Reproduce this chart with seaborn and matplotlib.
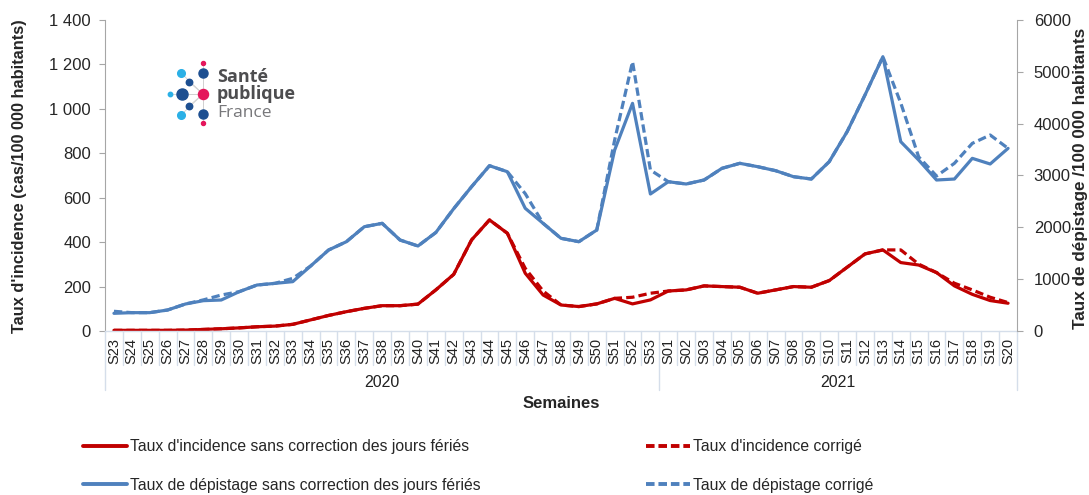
import numpy as np
import pandas as pd
import matplotlib
matplotlib.use("Agg")
import matplotlib.pyplot as plt
import matplotlib.transforms as mtransforms
from matplotlib.lines import Line2D
from matplotlib.ticker import FuncFormatter, MultipleLocator
import seaborn as sns

# semaines (2020 : S23-S53, 2021 : S01-S20)
weeks_2020 = ["S23", "S24", "S25", "S26", "S27", "S28", "S29", "S30", "S31", "S32",
              "S33", "S34", "S35", "S36", "S37", "S38", "S39", "S40", "S41", "S42",
              "S43", "S44", "S45", "S46", "S47", "S48", "S49", "S50", "S51", "S52", "S53"]
weeks_2021 = ["S01", "S02", "S03", "S04", "S05", "S06", "S07", "S08", "S09", "S10",
              "S11", "S12", "S13", "S14", "S15", "S16", "S17", "S18", "S19", "S20"]
years = ["2020", "2021"]

# taux d'incidence (cas/100 000 hab.)
incid_raw = [3, 3, 3, 3, 4, 7, 10, 14, 19, 22,
             30, 50, 70, 87, 102, 114, 114, 121, 185, 255,
             410, 500, 440, 260, 162, 117, 110, 122, 147, 122, 140,
             180, 185, 203, 200, 197, 170, 185, 200, 197, 227,
             287, 347, 365, 308, 297, 263, 203, 165, 137, 125]
incid_corr = [3, 3, 3, 3, 4, 7, 10, 14, 19, 22,
              30, 50, 70, 87, 102, 114, 114, 121, 185, 255,
              410, 500, 440, 282, 180, 117, 110, 122, 147, 152, 170,
              180, 185, 203, 200, 197, 170, 185, 200, 197, 227,
              287, 347, 365, 365, 301, 263, 215, 185, 152, 128]

# taux de dépistage (/100 000 hab.)
depist_raw = [341, 354, 354, 405, 521, 585, 598, 758, 887, 919,
              952, 1254, 1562, 1723, 2012, 2077, 1755, 1640, 1900, 2360,
              2784, 3189, 3073, 2367, 2077, 1788, 1723, 1948, 3491, 4392, 2643,
              2880, 2836, 2913, 3138, 3235, 3170, 3093, 2977, 2932, 3267,
              3845, 4553, 5292, 3652, 3299, 2913, 2932, 3331, 3222, 3524]
depist_corr = [380, 354, 354, 405, 521, 600, 694, 758, 887, 919,
               1016, 1254, 1562, 1723, 2012, 2077, 1755, 1640, 1900, 2360,
               2784, 3189, 3073, 2650, 2077, 1788, 1723, 1948, 3684, 5196, 3106,
               2880, 2836, 2913, 3138, 3235, 3170, 3093, 2977, 2932, 3267,
               3845, 4553, 5292, 4398, 3360, 2990, 3235, 3620, 3781, 3524]

labels = ["Taux d'incidence sans correction des jours fériés",
          "Taux d'incidence corrigé",
          "Taux de dépistage sans correction des jours fériés",
          "Taux de dépistage corrigé"]

weeks = weeks_2020 + weeks_2021
df = pd.DataFrame({"semaine": weeks, "pos": np.arange(len(weeks)),
                   "incid_raw": incid_raw, "incid_corr": incid_corr,
                   "depist_raw": depist_raw, "depist_corr": depist_corr})

RED = "#C00000"
BLUE = "#4F81BD"
GREY = "#A6A6A6"
SEP = "#D5DEEA"
dash = (0, (2.6, 1.3))

sns.set_style("white")
plt.rcParams["font.family"] = ["Liberation Sans", "DejaVu Sans"]

fig = plt.figure(figsize=(10.89, 4.95), dpi=100)
ax = fig.add_axes([105 / 1089, 1 - 331 / 495, 912 / 1089, 311 / 495])
ax2 = ax.twinx()

sns.lineplot(data=df, x="pos", y="incid_corr", ax=ax, color=RED, lw=2.3, linestyle=dash)
sns.lineplot(data=df, x="pos", y="incid_raw", ax=ax, color=RED, lw=2.3)
sns.lineplot(data=df, x="pos", y="depist_corr", ax=ax2, color=BLUE, lw=2.3, linestyle=dash)
sns.lineplot(data=df, x="pos", y="depist_raw", ax=ax2, color=BLUE, lw=2.3)

n = len(weeks)
ax.set_xlim(-0.5, n - 0.5)
ax.set_ylim(0, 1400)
ax2.set_ylim(0, 6000)
ax.yaxis.set_major_locator(MultipleLocator(200))
ax2.yaxis.set_major_locator(MultipleLocator(1000))
ax.yaxis.set_major_formatter(FuncFormatter(lambda v, p: f"{int(v):,}".replace(",", " ")))
ax2.yaxis.set_major_formatter(FuncFormatter(lambda v, p: f"{int(v)}"))

ax.set_xticks(df["pos"])
ax.set_xticklabels(weeks, rotation=90, fontsize=10.5, color="#222222")
ax.tick_params(axis="x", length=0, pad=5)
ax.tick_params(axis="y", length=4, width=0.8, color=GREY, labelsize=12, pad=6, direction="out", left=True)
ax2.tick_params(axis="y", length=4, width=0.8, color=GREY, labelsize=12, pad=8, direction="out", right=True)
ax.set_xlabel("")
ax.set_ylabel("")
ax2.set_ylabel("")

for a in (ax, ax2):
    a.spines["top"].set_visible(False)
    a.spines["left"].set_color(GREY)
    a.spines["right"].set_color(GREY)
    a.spines["bottom"].set_color(SEP)
    a.spines["bottom"].set_linewidth(1.0)
ax2.spines["bottom"].set_visible(False)
ax.spines["right"].set_visible(False)
ax2.spines["left"].set_visible(False)

# séparateurs de l'axe des semaines
trans = mtransforms.blended_transform_factory(ax.transData, ax.transAxes)
n20 = len(weeks_2020)
for b in np.arange(-0.5, n, 1.0):
    low = -0.19 if b in (-0.5, n20 - 0.5, n - 0.5) else -0.11
    ax.plot([b, b], [0, low], transform=trans, color=SEP, lw=1.0, clip_on=False)
ax.text((n20 - 1) / 2, -0.165, years[0], transform=trans, ha="center", va="center", fontsize=11.5, color="#222222")
ax.text((n20 + n - 1) / 2, -0.165, years[1], transform=trans, ha="center", va="center", fontsize=11.5, color="#222222")

fig.text(561 / 1089, 1 - 403 / 495, "Semaines", ha="center", va="center", fontsize=12, fontweight="bold")
fig.text(20 / 1089, 1 - 176 / 495, "Taux d'incidence (cas/100 000 habitants)", rotation=90,
         ha="center", va="center", fontsize=11.8, fontweight="bold")
fig.text(1080 / 1089, 1 - 178 / 495, "Taux de dépistage /100 000 habitants", rotation=90,
         ha="center", va="center", fontsize=12.3, fontweight="bold")

# légende en deux colonnes
h_solid = [Line2D([], [], color=RED, lw=2.8), Line2D([], [], color=BLUE, lw=2.8)]
h_dash = [Line2D([], [], color=RED, lw=2.8, linestyle=(0, (2.2, 1.0))),
          Line2D([], [], color=BLUE, lw=2.8, linestyle=(0, (2.2, 1.0)))]
leg_kw = dict(frameon=False, handlelength=2.8, handletextpad=0.2,
              labelspacing=1.5, loc="upper left", borderaxespad=0, borderpad=0,
              prop={"size": 11.3})
leg1 = fig.legend(h_solid, [labels[0], labels[2]], bbox_to_anchor=(83 / 1089, 1 - 439 / 495), **leg_kw)
leg2 = fig.legend(h_dash, [labels[1], labels[3]], bbox_to_anchor=(646 / 1089, 1 - 439 / 495), **leg_kw)

# logo Santé publique France
px = lambda x: x / 1089
py = lambda y: 1 - y / 495
hub = (203, 94)
dots = [((203, 63), 2.0, "#E4165B"), ((203, 73), 4.5, "#1D4F91"), ((181, 73), 3.8, "#2BB0E6"),
        ((189, 82), 3.2, "#1D4F91"), ((182, 94), 5.5, "#1D4F91"), ((170, 94), 2.2, "#2BB0E6"),
        ((203, 94), 5.0, "#E4165B"), ((189, 106), 3.2, "#1D4F91"), ((181, 115), 3.8, "#2BB0E6"),
        ((203, 114), 4.5, "#1D4F91"), ((203, 123), 2.0, "#E4165B")]
for (x, y), r, c in dots:
    if (x, y) != hub:
        fig.add_artist(Line2D([px(hub[0]), px(x)], [py(hub[1]), py(y)], color="#D0D0D0", lw=0.6, zorder=1))
for (x, y), r, c in dots:
    fig.add_artist(Line2D([px(x)], [py(y)], marker="o", markersize=r * 1.45, color=c, lw=0, zorder=2))
logo_font = ["Open Sans", "DejaVu Sans"]
fig.text(px(217), py(77), "Santé", fontsize=13, fontweight="bold", color="#4D4D4F", va="center", family=logo_font)
fig.text(px(217), py(94), "publique", fontsize=13, fontweight="bold", color="#4D4D4F", va="center", family=logo_font)
fig.text(px(217), py(113), "France", fontsize=12.5, color="#77777A", va="center", family=logo_font)

fig.savefig("out.png", dpi=100)
